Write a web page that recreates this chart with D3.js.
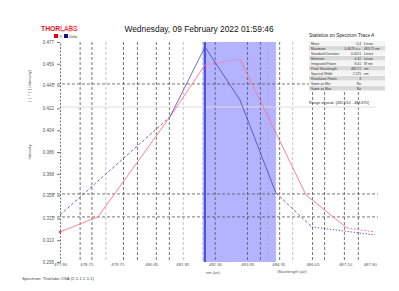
<!DOCTYPE html>
<html>
<head>
<meta charset="utf-8">
<script src="https://cdn.jsdelivr.net/npm/d3@7"></script>
<style>
body { margin: 0; background: #fff; }
text { font-family: "Liberation Sans", Arial, sans-serif; }
</style>
</head>
<body>
<svg id="svg"></svg>
<script>
var width = 399, height = 291;

// trace data (wavelength nm, intensity)
var redX = [477.90, 479.13, 481.45, 482.58, 483.71, 485.84, 487.16, 488.06];
var redY = [0.3199, 0.3324, 0.4151, 0.4580, 0.4629, 0.3505, 0.3232, 0.3199];
var redDash = ["", "", "", "2,1.5", "", "", "2,1.5"];

var blueX = [477.90, 481.45, 482.58, 483.71, 484.87, 486.03, 488.06];
var blueY = [0.3339, 0.4151, 0.4729, 0.4290, 0.3521, 0.3240, 0.3174];
var blueDash = ["3,2", "", "", "", "3,2", "1.5,1.5"];

var xTicks = [477.90, 478.75, 479.75, 480.85, 481.85, 482.90, 483.95, 484.95, 486.05, 487.10, 487.90];
var yTicks = [0.477, 0.459, 0.441, 0.422, 0.404, 0.386, 0.368, 0.350, 0.331, 0.313, 0.295];

var darkGridX = [478.55, 478.93, 479.95, 480.40, 481.01, 481.43, 482.91, 483.95, 484.37, 484.99, 486.05, 486.44, 487.08, 487.53];
var lightGridX = [479.38, 481.88, 482.51, 484.61, 485.41];
var darkGridY = [0.4423, 0.3513, 0.3323];
var lightGridY = [0.4232];

var band = [482.51, 484.87];
var marker = 482.58;

var statLabels = ["Mean", "Maximum", "Standard Deviation", "Minimum", "Integrated Power", "Peak Wavelength", "Spectral Width", "Resolution Points", "Same as Min", "Same as Max"];
var statValues = ["0.4", "0.4629 a.u.", "0.0521", "0.32", "8.41", "483.71", "2.125", "3", "No", "No"];
var statUnits = ["Linear", "483.71 nm", "Linear", "Linear", "W nm", "nm", "nm", "", "", ""];

var svg = d3.select("#svg").attr("width", width).attr("height", height);

var x = d3.scaleLinear().domain([477.9, 488.1]).range([60, 376]);
var y = d3.scaleLinear().domain([0.295, 0.477]).range([262, 42]);

// highlighted band
svg.append("rect")
    .attr("x", x(band[0])).attr("width", x(band[1]) - x(band[0]))
    .attr("y", y(0.477)).attr("height", y(0.295) - y(0.477))
    .attr("fill", "#8a8aff").attr("fill-opacity", 0.65);

// grid
svg.selectAll(".gxl").data(lightGridX).enter().append("line")
    .attr("x1", d => x(d)).attr("x2", d => x(d))
    .attr("y1", 42).attr("y2", 262)
    .attr("stroke", "#aaa").attr("stroke-width", 0.7).attr("stroke-dasharray", "3,2");
svg.selectAll(".gxd").data(darkGridX).enter().append("line")
    .attr("x1", d => x(d)).attr("x2", d => x(d))
    .attr("y1", 42).attr("y2", 262)
    .attr("stroke", "#555").attr("stroke-width", 0.8).attr("stroke-dasharray", "3,2");
svg.selectAll(".gyl").data(lightGridY).enter().append("line")
    .attr("x1", 60).attr("x2", 376)
    .attr("y1", d => y(d)).attr("y2", d => y(d))
    .attr("stroke", "#ddd").attr("stroke-width", 1);
svg.selectAll(".gyd").data(darkGridY).enter().append("line")
    .attr("x1", 52).attr("x2", 378)
    .attr("y1", d => y(d)).attr("y2", d => y(d))
    .attr("stroke", "#555").attr("stroke-width", 0.8).attr("stroke-dasharray", "3,2");

// marker line
svg.append("line")
    .attr("x1", x(marker)).attr("x2", x(marker))
    .attr("y1", 42).attr("y2", 262)
    .attr("stroke", "#3030e0").attr("stroke-width", 1.5);

// left axis
var yAxis = d3.axisLeft(y).tickValues(yTicks).tickSize(3).tickFormat(d3.format(".3f"));
var ya = svg.append("g").attr("transform", "translate(60,0)").call(yAxis);
ya.select(".domain").attr("stroke", "#777").attr("stroke-dasharray", "2,1.5");
ya.selectAll(".tick line").attr("stroke", "#777");
ya.selectAll("text").attr("font-size", 4.5).attr("fill", "#555").attr("font-family", "Liberation Sans, Arial");

var xAxis = d3.axisBottom(x).tickValues(xTicks).tickSize(0).tickPadding(1).tickFormat(d3.format(".2f"));
var xa = svg.append("g").attr("transform", "translate(0,262)").call(xAxis);
xa.select(".domain").remove();
xa.selectAll("text").attr("font-size", 4.3).attr("fill", "#555").attr("font-family", "Liberation Sans, Arial");

// traces, drawn segment by segment
function drawTrace(xs, ys, dashes, color, w) {
    var segs = d3.range(xs.length - 1);
    svg.append("g").selectAll("line").data(segs).enter().append("line")
        .attr("x1", i => x(xs[i])).attr("y1", i => y(ys[i]))
        .attr("x2", i => x(xs[i + 1])).attr("y2", i => y(ys[i + 1]))
        .attr("stroke", color).attr("stroke-width", w)
        .attr("stroke-dasharray", i => dashes[i] || null);
}
drawTrace(redX, redY, redDash, "#ff7585", 0.9);
drawTrace(blueX, blueY, blueDash, "#4848a8", 0.8);
svg.append("circle").attr("cx", x(redX[0])).attr("cy", y(redY[0])).attr("r", 1.2).attr("fill", "#ff3040");

// title
svg.append("text").attr("x", 199).attr("y", 32).attr("text-anchor", "middle")
    .attr("font-size", 8.4).attr("fill", "#111")
    .text("Wednesday, 09 February 2022 01:59:46");

// logo + legend
var logo = svg.append("text").attr("x", 41).attr("y", 31).attr("font-size", 6.8).attr("font-weight", "bold");
logo.append("tspan").attr("fill", "#e8101a").text("THOR");
logo.append("tspan").attr("fill", "#fff").attr("stroke", "#e8101a").attr("stroke-width", 0.35).attr("font-weight", "normal").text("LABS");
svg.append("rect").attr("x", 54).attr("y", 34).attr("width", 4).attr("height", 4).attr("fill", "#e00010");
svg.append("text").attr("x", 59).attr("y", 37.8).attr("font-size", 3.5).attr("fill", "#333").text("Tr");
svg.append("rect").attr("x", 64).attr("y", 34).attr("width", 4).attr("height", 4).attr("fill", "#101080");
svg.append("text").attr("x", 69).attr("y", 37.8).attr("font-size", 3.5).attr("fill", "#333").text("Delta");

// statistics panel
svg.append("text").attr("x", 309).attr("y", 37).attr("font-size", 4.8).attr("fill", "#222")
    .text("Statistics on Spectrum Trace A");
var rowH = 5;
var rows = svg.append("g").selectAll("g").data(statLabels).enter().append("g")
    .attr("transform", (d, i) => "translate(309," + (41 + i * rowH) + ")");
rows.append("rect").attr("width", 76).attr("height", rowH - 0.5)
    .attr("fill", (d, i) => i % 2 ? "#d9d9d9" : "#f4f4f4");
rows.append("text").attr("x", 2).attr("y", 3.6).attr("font-size", 3.3).attr("fill", "#333").text(d => d);
rows.append("text").attr("x", 52).attr("y", 3.6).attr("font-size", 3.3).attr("text-anchor", "end").attr("fill", "#333").text((d, i) => statValues[i]);
rows.append("text").attr("x", 55).attr("y", 3.6).attr("font-size", 3.3).attr("fill", "#333").text((d, i) => statUnits[i]);
svg.append("text").attr("x", 309).attr("y", 104).attr("font-size", 3.8).attr("fill", "#333")
    .text("Range of peak: [482.510 - 484.870]");

// axis titles
svg.append("text").attr("transform", "translate(31,86) rotate(-90)").attr("text-anchor", "middle")
    .attr("font-size", 4).attr("fill", "#555").text("( 1 * 1 ) (Intensity)");
svg.append("text").attr("transform", "translate(31,152) rotate(-90)").attr("text-anchor", "middle")
    .attr("font-size", 4).attr("fill", "#555").text("Intensity");
svg.append("text").attr("x", 213).attr("y", 274).attr("text-anchor", "middle")
    .attr("font-size", 4).attr("fill", "#555").text("nm (air)");
svg.append("text").attr("x", 292).attr("y", 273).attr("text-anchor", "middle")
    .attr("font-size", 4).attr("fill", "#555").text("Wavelength (air)");
svg.append("text").attr("x", 22).attr("y", 280)
    .attr("font-size", 4.3).attr("fill", "#444").text("Spectrum: Thorlabs OSA (2.1.1.1.5.1)");
</script>
</body>
</html>
